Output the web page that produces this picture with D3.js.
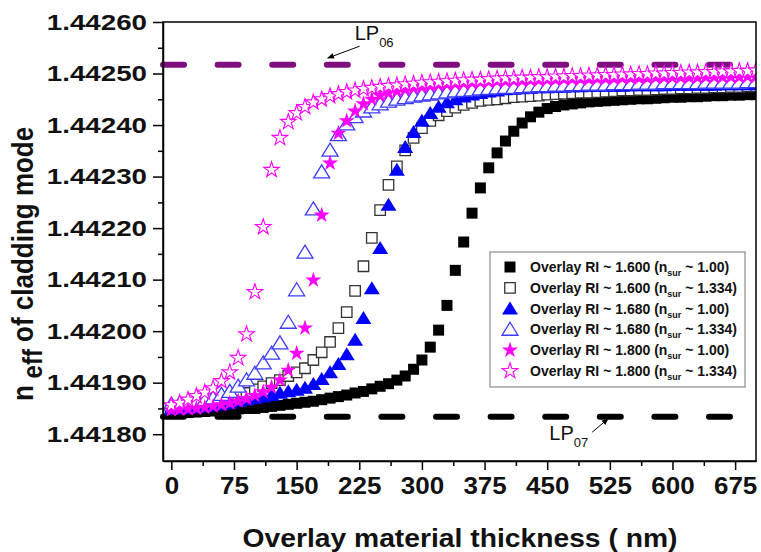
<!DOCTYPE html>
<html>
<head>
<meta charset="utf-8">
<style>
  body { margin: 0; background: #fff; }
  svg { font-family: Arial, "Liberation Sans", sans-serif; }
  .axis path, .axis line { stroke: #000; stroke-width: 1.5px; }
  .axis text { font-weight: bold; fill: #111; }
</style>
</head>
<body>
<svg width="761" height="552"></svg>
<script src="https://d3js.org/d3.v7.min.js"></script>
<script>

// overlay thickness (nm)
var thickness = [0,10,20,30,40,50,60,70,80,90,100,110,120,130,140,150,160,170,180,190,
  200,210,220,230,240,250,260,270,280,290,300,310,320,330,340,350,360,370,380,390,
  400,410,420,430,440,450,460,470,480,490,500,510,520,530,540,550,560,570,580,590,
  600,610,620,630,640,650,660,670,680,690,700];

// n_eff of the cladding mode, one array per case
var ri160Air = [1.441841,1.441841,1.441842,1.441843,1.441844,1.441845,1.441846,1.441847,1.441849,1.441850,
  1.441850,1.441852,1.441854,1.441856,1.441858,1.441860,1.441862,1.441864,1.441867,1.441870,
  1.441873,1.441876,1.441880,1.441883,1.441888,1.441893,1.441898,1.441905,1.441913,1.441926,
  1.441944,1.441969,1.442002,1.442050,1.442118,1.442173,1.442229,1.442278,1.442317,1.442346,
  1.442369,1.442388,1.442404,1.442416,1.442425,1.442432,1.442436,1.442439,1.442441,1.442443,
  1.442445,1.442446,1.442447,1.442448,1.442449,1.442450,1.442451,1.442451,1.442452,1.442453,
  1.442454,1.442454,1.442455,1.442455,1.442456,1.442457,1.442457,1.442458,1.442458,1.442459,
  1.442459];
var ri160Water = [1.441849,1.441850,1.441852,1.441854,1.441856,1.441859,1.441862,1.441866,1.441872,1.441880,
  1.441887,1.441893,1.441899,1.441905,1.441913,1.441920,1.441928,1.441944,1.441959,1.441979,
  1.442006,1.442037,1.442078,1.442126,1.442181,1.442235,1.442284,1.442320,1.442351,1.442375,
  1.442394,1.442408,1.442419,1.442427,1.442434,1.442439,1.442443,1.442447,1.442449,1.442450,
  1.442452,1.442454,1.442455,1.442456,1.442457,1.442459,1.442460,1.442461,1.442462,1.442463,
  1.442463,1.442464,1.442465,1.442466,1.442467,1.442467,1.442468,1.442468,1.442469,1.442470,
  1.442470,1.442471,1.442471,1.442472,1.442472,1.442473,1.442473,1.442474,1.442474,1.442475,
  1.442475];
var ri168Air = [1.441849,1.441850,1.441851,1.441852,1.441854,1.441856,1.441858,1.441861,1.441864,1.441867,
  1.441870,1.441873,1.441876,1.441880,1.441883,1.441886,1.441890,1.441897,1.441907,1.441920,
  1.441936,1.441955,1.441983,1.442025,1.442083,1.442161,1.442245,1.442313,1.442357,1.442386,
  1.442408,1.442423,1.442435,1.442444,1.442450,1.442455,1.442459,1.442462,1.442465,1.442467,
  1.442469,1.442470,1.442471,1.442472,1.442473,1.442473,1.442474,1.442474,1.442475,1.442475,
  1.442476,1.442476,1.442476,1.442476,1.442476,1.442477,1.442477,1.442477,1.442477,1.442477,
  1.442478,1.442478,1.442478,1.442478,1.442478,1.442478,1.442479,1.442479,1.442479,1.442479,
  1.442479];
var ri168Water = [1.441858,1.441860,1.441861,1.441863,1.441866,1.441870,1.441877,1.441883,1.441893,1.441905,
  1.441918,1.441938,1.441957,1.441977,1.442017,1.442080,1.442153,1.442237,1.442309,1.442351,
  1.442381,1.442402,1.442416,1.442427,1.442435,1.442441,1.442446,1.442450,1.442453,1.442456,
  1.442458,1.442460,1.442462,1.442464,1.442466,1.442467,1.442468,1.442470,1.442471,1.442472,
  1.442473,1.442473,1.442474,1.442475,1.442476,1.442476,1.442477,1.442477,1.442478,1.442478,
  1.442479,1.442479,1.442479,1.442480,1.442480,1.442480,1.442481,1.442481,1.442481,1.442482,
  1.442482,1.442482,1.442482,1.442482,1.442483,1.442483,1.442483,1.442483,1.442483,1.442484,
  1.442484];
var ri180Air = [1.441847,1.441848,1.441849,1.441850,1.441852,1.441854,1.441857,1.441860,1.441864,1.441869,
  1.441875,1.441882,1.441891,1.441905,1.441924,1.441957,1.442006,1.442099,1.442225,1.442326,
  1.442384,1.442408,1.442427,1.442441,1.442450,1.442457,1.442462,1.442466,1.442469,1.442472,
  1.442474,1.442476,1.442478,1.442479,1.442480,1.442481,1.442482,1.442483,1.442484,1.442485,
  1.442485,1.442486,1.442486,1.442487,1.442487,1.442488,1.442488,1.442489,1.442489,1.442489,
  1.442489,1.442490,1.442490,1.442490,1.442491,1.442491,1.442491,1.442491,1.442492,1.442492,
  1.442492,1.442492,1.442492,1.442492,1.442493,1.442493,1.442493,1.442493,1.442493,1.442494,
  1.442494];
var ri180Water = [1.441856,1.441861,1.441867,1.441874,1.441881,1.441889,1.441903,1.441920,1.441948,1.441994,
  1.442076,1.442202,1.442313,1.442375,1.442406,1.442423,1.442435,1.442444,1.442450,1.442456,
  1.442460,1.442464,1.442467,1.442470,1.442472,1.442474,1.442476,1.442477,1.442479,1.442480,
  1.442482,1.442483,1.442484,1.442485,1.442486,1.442487,1.442488,1.442488,1.442489,1.442490,
  1.442491,1.442491,1.442492,1.442492,1.442493,1.442493,1.442494,1.442494,1.442495,1.442495,
  1.442496,1.442496,1.442497,1.442497,1.442498,1.442498,1.442499,1.442499,1.442500,1.442500,
  1.442501,1.442501,1.442502,1.442502,1.442503,1.442503,1.442504,1.442504,1.442505,1.442505,
  1.442506];

var overlayRI = ["1.600", "1.600", "1.680", "1.680", "1.800", "1.800"];
var surroundRI = ["1.00", "1.334", "1.00", "1.334", "1.00", "1.334"];

var lp06 = 1.442517, lp07 = 1.441834;   // mode levels (dashed lines)

var xTicks = [0, 75, 150, 225, 300, 375, 450, 525, 600, 675];
var xMinor = [37.5, 112.5, 187.5, 262.5, 337.5, 412.5, 487.5, 562.5, 637.5];
var yTicks = [1.44180, 1.44190, 1.44200, 1.44210, 1.44220, 1.44230, 1.44240, 1.44250, 1.44260];
var yMinor = [1.44185, 1.44195, 1.44205, 1.44215, 1.44225, 1.44235, 1.44245, 1.44255];

var svg = d3.select("svg"),
    margin = {top: 22, right: 5, bottom: 91, left: 163},
    width = +svg.attr("width") - margin.left - margin.right,
    height = +svg.attr("height") - margin.top - margin.bottom,
    g = svg.append("g").attr("transform", "translate(" + margin.left + "," + margin.top + ")");

var x = d3.scaleLinear().domain([-10, 700]).range([0, width]),
    y = d3.scaleLinear().domain([1.441748, 1.4426]).range([height, 0]);

// stretch a text horizontally (the source figure is a bit widened)
function widen(sel, k) {
  sel.each(function() {
    var w = this.getComputedTextLength();
    d3.select(this).attr("textLength", w * k).attr("lengthAdjust", "spacingAndGlyphs");
  });
}

svg.append("defs").append("clipPath").attr("id", "plotclip")
  .append("rect").attr("width", width).attr("height", height);

var marker = svg.select("defs").append("marker")
  .attr("id", "arrow").attr("viewBox", "0 0 10 10")
  .attr("refX", 9).attr("refY", 5)
  .attr("markerWidth", 7).attr("markerHeight", 7)
  .attr("orient", "auto-start-reverse");
marker.append("path").attr("d", "M0,1L10,5L0,9Z").attr("fill", "#000");

// dashed mode lines
g.append("line")
  .attr("x1", x(-10)).attr("x2", x(700))
  .attr("y1", y(lp06)).attr("y2", y(lp06))
  .attr("stroke", "#7f0f7f").attr("stroke-width", 6)
  .attr("stroke-linecap", "round").attr("stroke-dasharray", "21,33.6");
g.append("line")
  .attr("x1", x(-10)).attr("x2", x(700))
  .attr("y1", y(lp07)).attr("y2", y(lp07))
  .attr("stroke", "#000").attr("stroke-width", 6)
  .attr("stroke-linecap", "round").attr("stroke-dasharray", "21,33.6");

// symbols
var triH = 13, triW = 16;
var triangle = {
  draw: function(ctx) {
    ctx.moveTo(0, -triH * 0.55);
    ctx.lineTo(triW / 2, triH * 0.45);
    ctx.lineTo(-triW / 2, triH * 0.45);
    ctx.closePath();
  }
};
var series = [
  {vals: ri160Air,   shape: d3.symbol(d3.symbolSquare, 121), fill: "#000",    stroke: "none",    sw: 0},
  {vals: ri160Water, shape: d3.symbol(d3.symbolSquare, 110), fill: "#fff",    stroke: "#333",    sw: 1.3},
  {vals: ri168Air,   shape: d3.symbol(triangle),             fill: "#0000ff", stroke: "none",    sw: 0},
  {vals: ri168Water, shape: d3.symbol(triangle),             fill: "#fff",    stroke: "#3b3bff", sw: 1.3},
  {vals: ri180Air,   shape: d3.symbol(d3.symbolStar, 80),    fill: "#ff00ff", stroke: "none",    sw: 0},
  {vals: ri180Water, shape: d3.symbol(d3.symbolStar, 76),    fill: "#fff",    stroke: "#ff00ff", sw: 1.1}
];

var plot = g.append("g").attr("clip-path", "url(#plotclip)");
series.forEach(function(s) {
  plot.append("g").selectAll("path")
    .data(thickness)
    .enter().append("path")
    .attr("transform", function(d, i) { return "translate(" + x(d) + "," + y(s.vals[i]) + ")"; })
    .attr("d", s.shape())
    .attr("fill", s.fill)
    .attr("stroke", s.stroke)
    .attr("stroke-width", s.sw);
});

// frame
g.append("rect").attr("width", width).attr("height", height)
  .attr("fill", "none").attr("stroke", "#000").attr("stroke-width", 1.5);

// axes
var yAxis = g.append("g").attr("class", "axis")
  .call(d3.axisLeft(y).tickValues(yTicks).tickFormat(d3.format(".5f"))
    .tickSize(10).tickSizeOuter(0).tickPadding(6));
yAxis.selectAll("text").style("font-size", "22px");
widen(yAxis.selectAll("text"), 1.26);
g.append("g").attr("class", "axis")
  .call(d3.axisLeft(y).tickValues(yMinor).tickFormat("").tickSize(5).tickSizeOuter(0))
  .select(".domain").remove();

var xAxis = g.append("g").attr("class", "axis")
  .attr("transform", "translate(0," + height + ")")
  .call(d3.axisBottom(x).tickValues(xTicks).tickSize(9).tickSizeOuter(0).tickPadding(8));
xAxis.selectAll("text").style("font-size", "23px");
widen(xAxis.selectAll("text"), 1.13);
g.append("g").attr("class", "axis")
  .attr("transform", "translate(0," + height + ")")
  .call(d3.axisBottom(x).tickValues(xMinor).tickFormat("").tickSize(5).tickSizeOuter(0))
  .select(".domain").remove();

// axis titles
var xt = svg.append("text")
  .attr("x", 460).attr("y", 547)
  .attr("text-anchor", "middle")
  .style("font-size", "25px").style("font-weight", "bold").attr("fill", "#111")
  .text("Overlay material thickness ( nm)");
widen(xt, 1.13);

var yt = svg.append("text")
  .attr("transform", "translate(33,401) scale(1.15,1) rotate(-90)")
  .style("font-size", "26px").style("font-weight", "bold").attr("fill", "#111");
yt.append("tspan").text("n");
yt.append("tspan").attr("dy", 8).style("font-size", "24px").text(" eff");
yt.append("tspan").attr("dy", -8).text(" of cladding mode");

// mode labels
function modeLabel(lx, ly, sub) {
  var t = g.append("text")
    .attr("x", x(lx)).attr("y", y(ly))
    .style("font-size", "20px").attr("fill", "#111");
  t.append("tspan").text("LP");
  t.append("tspan").attr("dy", 7).style("font-size", "13px").text(sub);
}
modeLabel(219.5, 1.442565, "06");
modeLabel(452.6, 1.441789, "07");

g.append("line")
  .attr("x1", x(225.4)).attr("y1", y(1.442553))
  .attr("x2", x(187.2)).attr("y2", y(1.442530))
  .attr("stroke", "#000").attr("stroke-width", 1)
  .attr("marker-end", "url(#arrow)");
g.append("line")
  .attr("x1", x(503.9)).attr("y1", y(1.441804))
  .attr("x2", x(523)).attr("y2", y(1.441830))
  .attr("stroke", "#000").attr("stroke-width", 1)
  .attr("marker-end", "url(#arrow)");

// legend
var legend = svg.append("g").attr("transform", "translate(490,252)");
legend.append("rect").attr("width", 255).attr("height", 135)
  .attr("fill", "#fff").attr("stroke", "#8c8c8c").attr("stroke-width", 1.2);

series.forEach(function(s, i) {
  var row = legend.append("g").attr("transform", "translate(0," + (15 + i * 20.8) + ")");
  row.append("path")
    .attr("transform", "translate(20,0)")
    .attr("d", s.shape())
    .attr("fill", s.fill).attr("stroke", s.stroke).attr("stroke-width", s.sw);
  var t = row.append("text").attr("x", 40).attr("y", 5)
    .style("font-size", "14px").style("font-weight", "bold").attr("fill", "#111");
  t.append("tspan").text("Overlay RI ~ " + overlayRI[i] + " (n");
  t.append("tspan").attr("dy", 4).style("font-size", "9px").text("sur");
  t.append("tspan").attr("dy", -4).text(" ~ " + surroundRI[i] + ")");
});

</script>
</body>
</html>
